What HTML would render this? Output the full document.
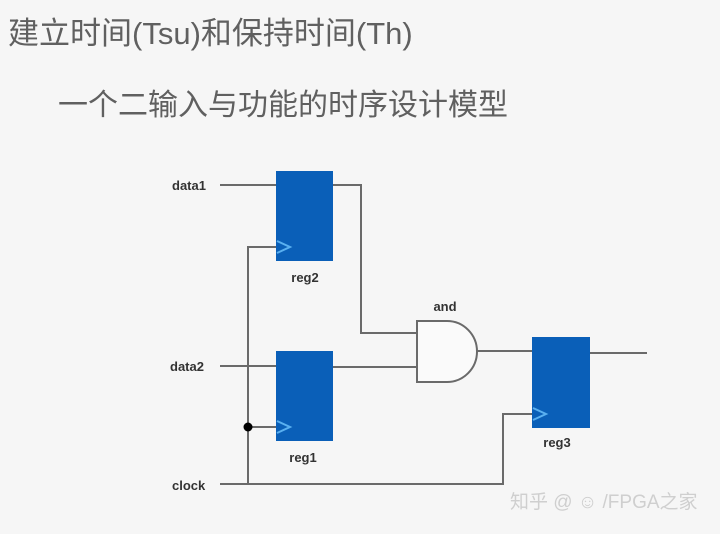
<!DOCTYPE html>
<html><head><meta charset="utf-8"><style>
html,body{margin:0;padding:0;background:#f6f6f6;}
body{width:720px;height:534px;overflow:hidden;position:relative;font-family:"Liberation Sans","Noto Sans CJK SC",sans-serif;}
.t{position:absolute;color:#606060;white-space:nowrap;line-height:1;}
</style></head><body>
<div class="t" style="left:8px;top:18px;font-size:31px;">建立时间(Tsu)和保持时间(Th)</div>
<div class="t" style="left:58px;top:91px;font-size:30px;">一个二输入与功能的时序设计模型</div>
<svg width="720" height="534" style="position:absolute;left:0;top:0" font-family="Liberation Sans, sans-serif" font-weight="bold" font-size="13" fill="#333">
<g stroke="#6a6a6a" stroke-width="2" fill="none">
<path d="M220 185H276"/>
<path d="M220 366H276"/>
<path d="M220 484H503V414H532"/>
<path d="M248 484V247H276"/>
<path d="M248 427H276"/>
<path d="M333 185H361V333H417"/>
<path d="M333 367H417"/>
<path d="M477 351H532"/>
<path d="M590 353H647"/>
<path d="M417 321H447A30 30.5 0 0 1 447 382H417Z" fill="#fafafa"/>
</g>
<rect x="276" y="171" width="57" height="90" fill="#0a5fb8"/>
<rect x="276" y="351" width="57" height="90" fill="#0a5fb8"/>
<rect x="532" y="337" width="58" height="91" fill="#0a5fb8"/>
<g stroke="#5ab0f0" stroke-width="2" fill="none">
<path d="M277 241L290 247L277 253"/>
<path d="M277 421L290 427L277 433"/>
<path d="M533 408L546 414L533 420"/>
</g>
<circle cx="248" cy="427" r="4.5" fill="#000"/>
<text x="172" y="190">data1</text>
<text x="170" y="371">data2</text>
<text x="172" y="490">clock</text>
<text x="305" y="282" text-anchor="middle">reg2</text>
<text x="303" y="462" text-anchor="middle">reg1</text>
<text x="445" y="311" text-anchor="middle">and</text>
<text x="557" y="447" text-anchor="middle">reg3</text>
<text x="510" y="508" font-weight="normal" font-size="19" fill="#cfcfcf" font-family="Liberation Sans, Noto Sans CJK SC, sans-serif">知乎 @ ☺ /FPGA之家</text>
</svg>
</body></html>
